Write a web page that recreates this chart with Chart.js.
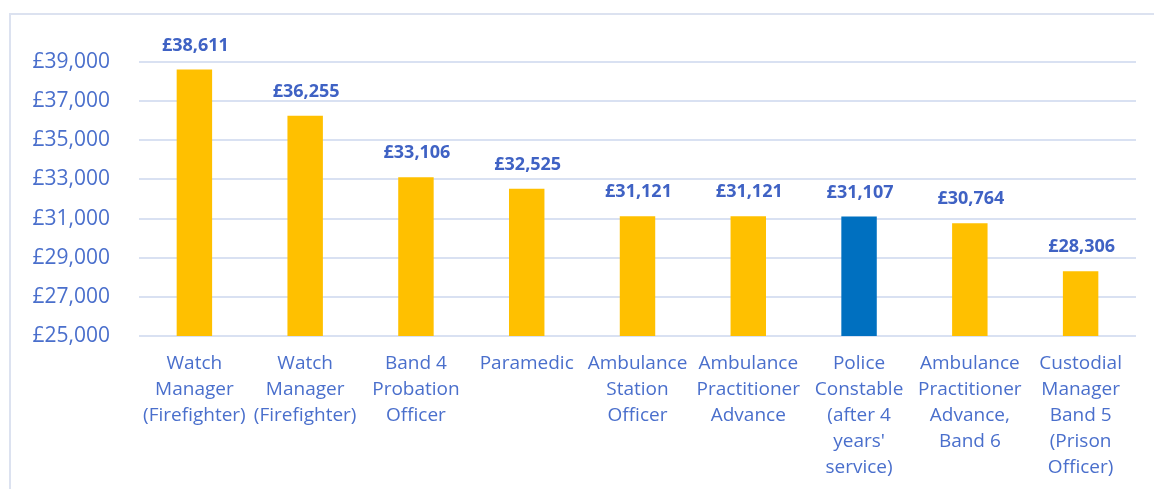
<!DOCTYPE html>
<html>
<head>
<meta charset="utf-8">
<script src="https://cdn.jsdelivr.net/npm/chart.js@4/dist/chart.umd.min.js"></script>
<style>
  html, body { margin: 0; padding: 0; background: #fff; }
  #wrap { position: absolute; left: 0; top: 0; width: 1154px; height: 489px; }
  #frame { position: absolute; left: 9px; top: 13px; width: 1160px; height: 500px;
           border-left: 2px solid #DCE2F0; border-top: 2px solid #DCE2F0; }
  canvas { position: absolute; left: 0; top: 0; }
</style>
</head>
<body>
<div id="wrap">
  <div id="frame"></div>
  <canvas id="c" width="1154" height="489"></canvas>
</div>
<script>
const categories = [
  ["Watch", "Manager", "(Firefighter)"],
  ["Watch", "Manager", "(Firefighter)"],
  ["Band 4", "Probation", "Officer"],
  ["Paramedic"],
  ["Ambulance", "Station", "Officer"],
  ["Ambulance", "Practitioner", "Advance"],
  ["Police", "Constable", "(after 4", "years'", "service)"],
  ["Ambulance", "Practitioner", "Advance,", "Band 6"],
  ["Custodial", "Manager", "Band 5", "(Prison", "Officer)"]
];
const salaries = [38611, 36255, 33106, 32525, 31121, 31121, 31107, 30764, 28306];
const barColors = ["#FFC000", "#FFC000", "#FFC000", "#FFC000", "#FFC000", "#FFC000", "#0070C0", "#FFC000", "#FFC000"];
const yMin = 25000, yMax = 39000, yStep = 2000;

const fmt = v => "£" + v.toLocaleString("en-GB");

const dataLabels = {
  id: "dataLabels",
  afterDatasetsDraw(chart) {
    const ctx = chart.ctx;
    const meta = chart.getDatasetMeta(0);
    ctx.save();
    ctx.font = "bold 18px 'Open Sans'";
    ctx.fillStyle = "#3F62C4";
    ctx.textAlign = "center";
    ctx.textBaseline = "middle";
    meta.data.forEach((bar, i) => {
      ctx.fillText(fmt(chart.data.datasets[0].data[i]), bar.x + 1, bar.y - 24);
    });
    ctx.restore();
  }
};

new Chart(document.getElementById("c"), {
  type: "bar",
  data: {
    labels: categories,
    datasets: [{
      data: salaries,
      backgroundColor: barColors,
      borderWidth: 0,
      barPercentage: 0.32,
      categoryPercentage: 1.0
    }]
  },
  options: {
    responsive: false,
    animation: false,
    layout: { padding: { top: 62, right: 18, left: 0, bottom: 0 } },
    plugins: { legend: { display: false }, tooltip: { enabled: false } },
    scales: {
      x: {
        grid: { display: false, drawTicks: false },
        border: { display: false },
        ticks: {
          color: "#4A6FCC",
          font: { family: "'Open Sans'", size: 19, lineHeight: 1.36 },
          padding: 15,
          maxRotation: 0,
          autoSkip: false
        },
        afterFit(scale) { scale.height = 153; }
      },
      y: {
        min: yMin,
        max: yMax,
        grid: { color: "#D9E1F2", lineWidth: 2, drawTicks: false },
        border: { display: false },
        ticks: {
          stepSize: yStep,
          color: "#4A6FCC",
          font: { family: "'Open Sans'", size: 21 },
          padding: 29,
          callback: v => fmt(v)
        },
        afterFit(scale) { scale.width = 139; }
      }
    }
  },
  plugins: [dataLabels]
});
</script>
</body>
</html>
